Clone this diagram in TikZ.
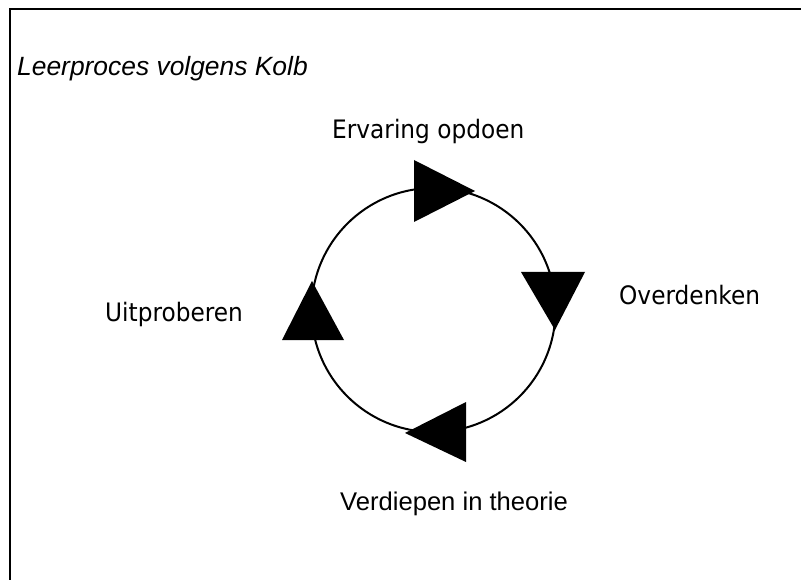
\documentclass[tikz,border=0pt]{standalone}
\usepackage{fontspec}
\setmainfont{Liberation Sans}
\newfontfamily\labelfont{DejaVu Sans}
\begin{document}
\begin{tikzpicture}[x=1pt,y=-1pt,
  frameline/.style={line width=2pt},
  ringline/.style={line width=2pt},
  arrowtri/.style={fill=black,draw=none},
  lbl/.style={inner sep=0pt,anchor=base west},
  cyclabel/.style={lbl,font=\labelfont\fontsize{25.4}{30}\selectfont},
  arlabel/.style={lbl,font=\fontsize{25.6}{30}\selectfont}]
\useasboundingbox (0,0) rectangle (801,580);
\draw[frameline] (10,581) -- (10,9.5) -- (802,9.5);
\node[lbl,font=\itshape\fontsize{26.4}{30}\selectfont] (title) at (17,76) {Leerproces volgens Kolb};
\node[ringline,draw,circle,minimum size=244pt,inner sep=0pt] (ring) at (433.5,310) {};
\fill[arrowtri] (414,160) -- (414,222) -- (475,191) -- cycle;
\fill[arrowtri] (521,272) -- (585,272) -- (555,330) -- cycle;
\fill[arrowtri] (466,402) -- (466,462) -- (405,433) -- cycle;
\fill[arrowtri] (282,340) -- (344,340) -- (312,281) -- cycle;
\node[cyclabel] (ervaring) at (332,139) {\scalebox{0.915}[1]{Ervaring opdoen}};
\node[cyclabel] (overdenken) at (619,305) {\scalebox{0.915}[1]{Overdenken}};
\node[cyclabel] (uitproberen) at (105,321.7) {\scalebox{0.915}[1]{Uitproberen}};
\node[arlabel] (verdiepen) at (340,510) {Verdiepen in theorie};
\end{tikzpicture}
\end{document}
